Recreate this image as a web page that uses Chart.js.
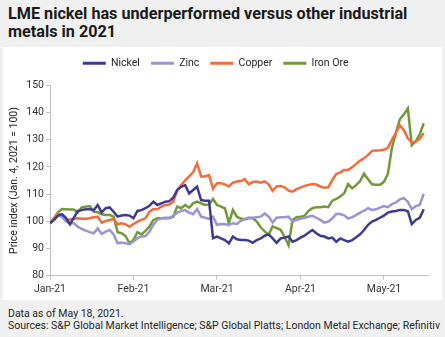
<!DOCTYPE html>
<html>
<head>
<meta charset="utf-8">
<script src="https://cdn.jsdelivr.net/npm/chart.js@4.4.0/dist/chart.umd.min.js"></script>
<style>
    html, body { margin: 0; padding: 0; background: #f0f0f0; }
    body { width: 445px; height: 337px; overflow: hidden; position: relative; font-family: Roboto, "Liberation Sans", sans-serif; }
    #title { position: absolute; left: 8px; top: 4.5px; width: 436px; font-size: 16.2px; font-weight: bold; line-height: 18.5px; color: #1a1a1a; white-space: nowrap; }
    #panel { position: absolute; left: 3px; top: 47px; width: 439px; height: 253px; background: #fff; }
    #foot { position: absolute; left: 8px; top: 308px; font-size: 10.5px; line-height: 12px; color: #262626; white-space: nowrap; }
</style>
</head>
<body>
<div id="title">LME nickel has underperformed versus other industrial<br>metals in 2021</div>
<div id="panel"><canvas id="metalChart" width="439" height="253"></canvas></div>
<div id="foot">Data as of May 18, 2021.<br>Sources: S&amp;P Global Market Intelligence; S&amp;P Global Platts; London Metal Exchange; Refinitiv</div>
<script>
// Price index, Jan. 4, 2021 = 100, one value per trading day (Jan. 4 - May 18)
const nickel = [
    99.3, 100.5, 102.1, 102.6, 101.3, 98.9, 101.3, 103.8, 104.1, 104.4,
    104.4, 104.1, 106, 103.3, 104.8, 105.1, 103.5, 101.7, 102.1, 102.3,
    102.1, 101.1, 103.8, 104.1, 104.8, 105.7, 107.2, 106, 106.6, 107.2,
    107.4, 108.7, 111.5, 112.7, 113.3, 110.2, 111.5, 112.7, 107.8, 107.6,
    107.6, 93.8, 94.4, 93.7, 93.1, 91.9, 94.4, 93.4, 93.1, 93.1,
    92.9, 92.1, 93.1, 93.7, 94.7, 95.2, 93.7, 92.1, 93.7, 94,
    94.4, 92.5, 93.1, 94, 94.7, 95.8, 96.8, 95.6, 94.7, 94.4,
    93.7, 94, 92.5, 93.7, 93.1, 92.5, 93.1, 94.1, 95.2, 96.8,
    98.7, 99.9, 100.5, 101.3, 102.1, 103.2, 103.6, 103.8, 104.2, 104.2,
    103.7, 99, 100.5, 101.3, 104.4
];
const zinc = [
    99.3, 100.5, 102.3, 101.7, 99.9, 99.3, 99.3, 98, 97.2, 96.6,
    96, 95.6, 97.4, 95.4, 96.2, 96.8, 95.2, 91.9, 92.2, 91.9,
    91.6, 92.6, 93.8, 94.4, 94.6, 96.2, 98.7, 100.5, 101.1, 101.3,
    101.3, 102, 103.2, 103.8, 104.1, 103.2, 102.6, 104.5, 101.7, 101.3,
    100.9, 101.7, 98.7, 99, 98.9, 98.7, 99.3, 99, 100.2, 100.9,
    101.3, 101.3, 101.5, 101.7, 102.9, 101.7, 99.5, 101.3, 101.5, 101.5,
    101.7, 99.9, 100.5, 100.9, 101.3, 101.7, 102, 101.3, 100.5, 99.5,
    99.9, 101.1, 102.7, 102.7, 102.2, 101, 101.5, 102.3, 103.2, 103.9,
    104.8, 104.2, 104.4, 105, 105.6, 105.2, 106.3, 106.9, 108.1, 108.5,
    107.2, 104.4, 105.6, 106, 110.1
];
const copper = [
    99.3, 100.9, 102.9, 101.7, 100.5, 100.7, 100.9, 101.1, 100.9, 100.9,
    101.1, 101.5, 101.7, 99.5, 100.1, 100.5, 100.9, 98.9, 99.3, 98.9,
    98, 99, 99.9, 100.5, 101.1, 103.5, 104.5, 104.4, 105.4, 106,
    106.2, 107.2, 111.5, 113.3, 115.1, 116.5, 118, 121.3, 116.5, 116.5,
    117, 112, 114, 114, 113.6, 112.8, 114.2, 114.6, 114.8, 115.5,
    113.6, 114.5, 114.6, 114.2, 114.7, 113.6, 111.2, 112.8, 113, 112.5,
    111.3, 110.9, 111.8, 112.4, 113, 113.4, 113.7, 113.5, 112.8, 112.3,
    112.5, 115.2, 117.4, 118, 118.9, 118.9, 119.9, 121.1, 122.3, 123.2,
    124.4, 125.9, 126, 126.1, 126.3, 127, 130, 132.5, 135.3, 133.5,
    130.5, 129, 129.3, 130.3, 132.5
];
const ironOre = [
    99.3, 101.1, 103.3, 104.5, 104.4, 104.3, 104.3, 103.3, 105.1, 105.4,
    105.6, 103.5, 103.3, 102.6, 102.3, 102.3, 101.7, 96, 95.6, 94.6,
    91.9, 93.2, 96, 95.2, 96.5, 98, 100.5, 101.1, 101.1, 101.1,
    101.1, 101.7, 105.4, 104.8, 106, 105, 106.6, 107.2, 106.6, 106,
    106.2, 108.2, 106, 105.4, 104.8, 99.3, 104.2, 101.7, 101, 100.7,
    101.2, 101.1, 99.9, 97.8, 96.3, 95.1, 98.1, 97.5, 96.9, 94.3,
    91.2, 100.5, 101.5, 101.7, 102, 103.8, 104.8, 105.2, 105.2, 105.4,
    105.2, 107.6, 108.2, 109.1, 110.3, 113.7, 112.1, 113.3, 114.8, 117.5,
    115.5, 113.6, 113.4, 113.4, 114.5, 117.5, 127, 132.5, 137.5, 139.3,
    141.5, 128, 129.5, 132, 136
];

// month ticks, in trading days from Jan. 4
const monthLabels = ["Jan-21", "Feb-21", "Mar-21", "Apr-21", "May-21"];
const monthTicks = [0, 21, 42, 63, 84];

const axisGray = "#bfbfbf";
const textGray = "#333333";
const tickFont = { family: "Roboto, 'Liberation Sans', sans-serif", size: 10.5 };

function serie(label, values, color) {
    return {
        label: label,
        data: values.map((v, i) => ({ x: i, y: v })),
        borderColor: color,
        backgroundColor: color,
        borderWidth: 2.5,
        pointRadius: 0,
        tension: 0
    };
}

// fija la altura de la leyenda para que el área del gráfico empiece donde toca
const legendHeight = {
    id: "legendHeight",
    beforeInit(chart) {
        const fit = chart.legend.fit;
        chart.legend.fit = function () {
            fit.call(this);
            this.height = 38.3;
        };
    }
};

const ctx = document.getElementById("metalChart").getContext("2d");
new Chart(ctx, {
    type: "line",
    data: {
        datasets: [
            serie("Nickel", nickel, "#3d3a96"),
            serie("Zinc", zinc, "#9995d5"),
            serie("Copper", copper, "#f36c3a"),
            serie("Iron Ore", ironOre, "#72983a")
        ]
    },
    options: {
        responsive: false,
        animation: false,
        layout: { padding: { left: 0, right: 13.7, top: 0, bottom: 0 } },
        plugins: {
            legend: {
                position: "top",
                labels: {
                    boxWidth: 23,
                    boxHeight: 3,
                    padding: 11,
                    color: "#262626",
                    font: tickFont,
                    generateLabels: (chart) =>
                        Chart.defaults.plugins.legend.labels.generateLabels(chart)
                            .map(l => ({ ...l, lineWidth: 0 }))
                }
            },
            tooltip: { enabled: false }
        },
        scales: {
            x: {
                type: "linear",
                min: 0,
                max: 95.15,
                afterBuildTicks: (scale) => {
                    scale.ticks = monthTicks.map(v => ({ value: v }));
                },
                afterFit: (scale) => { scale.height = 24.3; },
                ticks: {
                    autoSkip: false,
                    maxRotation: 0,
                    padding: 3,
                    color: textGray,
                    font: tickFont,
                    callback: (value, index) => monthLabels[index]
                },
                grid: { drawOnChartArea: false, tickLength: 4, color: axisGray },
                border: { color: axisGray }
            },
            y: {
                min: 80,
                max: 150,
                afterFit: (scale) => { scale.width = 47; },
                ticks: { stepSize: 10, padding: 2, color: textGray, font: tickFont },
                grid: { drawOnChartArea: false, tickLength: 4, color: axisGray },
                border: { color: axisGray },
                title: {
                    display: true,
                    text: "Price index (Jan. 4, 2021 = 100)",
                    color: "#262626",
                    font: tickFont,
                    padding: { top: 5.5, bottom: 0 }
                }
            }
        }
    },
    plugins: [legendHeight]
});
</script>
</body>
</html>
